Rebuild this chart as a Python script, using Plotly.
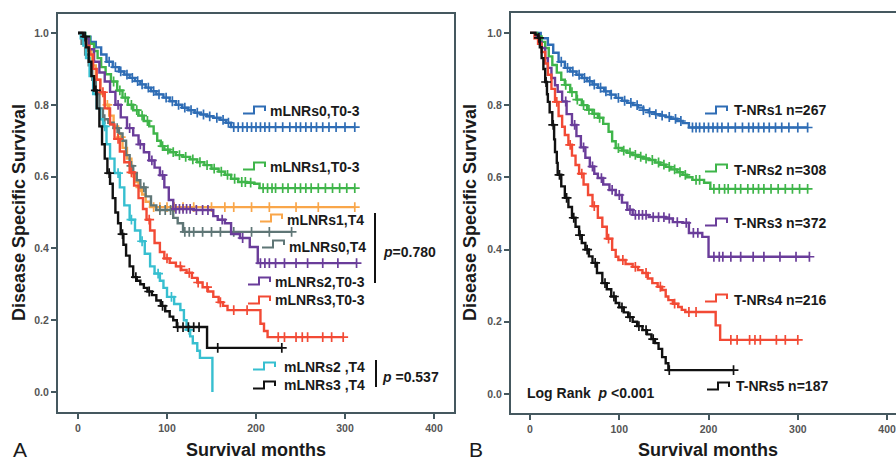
import numpy as np
import plotly.graph_objects as go

W, H = 896, 461

# ---------------- Panel A data ----------------
a_names = ["mLNRs0,T0-3", "mLNRs1,T0-3", "mLNRs1,T4", "mLNRs0,T4",
           "mLNRs2,T0-3", "mLNRs3,T0-3", "mLNRs2 ,T4", "mLNRs3 ,T4"]
a_colors = ["#2f6db5", "#3fb54a", "#f9a64a", "#5f7676",
            "#6a3d9a", "#f24a35", "#37bfd0", "#111111"]

a0_t = [0, 8, 14, 20, 26, 32, 39, 46, 52, 58, 64, 70, 76, 82, 88, 96, 103, 110, 117, 124, 131, 138, 145, 152, 160, 166, 172, 311]
a0_s = [1.0, 0.99, 0.975, 0.96, 0.94, 0.92, 0.905, 0.893, 0.884, 0.875, 0.866, 0.857, 0.848, 0.838, 0.829, 0.82, 0.81, 0.80, 0.792, 0.785, 0.778, 0.773, 0.768, 0.764, 0.758, 0.75, 0.738, 0.738]
a0_c = [35, 42, 48, 55, 61, 67, 72, 79, 85, 91, 99, 106, 113, 120, 127, 134, 141, 148, 156, 163, 169,
        175, 180, 185, 190, 195, 200, 205, 210, 215, 222, 230, 238, 245, 250, 256, 262, 268, 275, 282, 290, 300, 311]

a1_t = [0, 8, 13, 18, 22, 26, 31, 37, 44, 50, 56, 62, 68, 74, 80, 85, 89, 93, 97, 103, 110, 118, 126, 134, 142, 150, 158, 165, 172, 180, 190, 198, 204, 311]
a1_s = [1.0, 0.99, 0.97, 0.95, 0.93, 0.905, 0.885, 0.865, 0.84, 0.82, 0.80, 0.785, 0.77, 0.755, 0.74, 0.72, 0.70, 0.685, 0.675, 0.668, 0.66, 0.655, 0.648, 0.64, 0.632, 0.622, 0.614, 0.605, 0.594, 0.585, 0.583, 0.58, 0.568, 0.568]
a1_c = [40, 47, 53, 60, 66, 72, 78, 95, 101, 107, 114, 121, 129, 137, 145, 153, 161, 168, 176, 184, 188, 194,
        208, 213, 218, 222, 230, 236, 244, 250, 256, 262, 270, 278, 286, 294, 302, 311]

a2_t = [0, 5, 10, 15, 20, 25, 30, 35, 40, 45, 50, 55, 60, 64, 68, 72, 76, 81, 311]
a2_s = [1.0, 0.98, 0.95, 0.91, 0.87, 0.83, 0.80, 0.77, 0.74, 0.71, 0.68, 0.65, 0.61, 0.585, 0.57, 0.55, 0.53, 0.515, 0.515]
a2_c = [33, 48, 62, 70, 85, 92, 100, 108, 118, 130, 150, 165, 175, 195, 215, 245, 270, 311]

a3_t = [0, 4, 8, 12, 16, 20, 24, 28, 34, 40, 46, 50, 54, 58, 62, 66, 70, 76, 82, 88, 107, 112, 118, 240]
a3_s = [1.0, 0.97, 0.94, 0.91, 0.87, 0.83, 0.79, 0.76, 0.75, 0.735, 0.72, 0.70, 0.66, 0.63, 0.61, 0.59, 0.57, 0.545, 0.52, 0.507, 0.485, 0.47, 0.446, 0.446]
a3_c = [30, 44, 60, 74, 92, 98, 104, 120, 125, 130, 140, 150, 160, 175, 195, 215, 240]

a4_t = [0, 6, 12, 18, 24, 30, 36, 42, 48, 55, 62, 68, 74, 80, 86, 92, 97, 102, 107, 130, 152, 157, 165, 172, 182, 193, 202, 313]
a4_s = [1.0, 0.985, 0.955, 0.92, 0.89, 0.865, 0.836, 0.80, 0.765, 0.735, 0.715, 0.69, 0.668, 0.645, 0.625, 0.604, 0.57, 0.535, 0.51, 0.507, 0.49, 0.48, 0.47, 0.44, 0.429, 0.404, 0.359, 0.359]
a4_c = [45, 58, 70, 83, 95, 110, 114, 118, 122, 126, 133, 140, 146, 162, 185,
        205, 210, 215, 222, 232, 245, 258, 275, 292, 313]

a5_t = [0, 4, 8, 13, 17, 21, 25, 30, 36, 41, 47, 52, 58, 63, 68, 73, 77, 81, 86, 92, 97, 103, 110, 116, 122, 128, 134, 140, 146, 152, 158, 163, 168, 205, 209, 213, 298]
a5_s = [1.0, 0.985, 0.965, 0.94, 0.90, 0.87, 0.835, 0.79, 0.745, 0.705, 0.67, 0.64, 0.612, 0.575, 0.54, 0.51, 0.48, 0.45, 0.415, 0.39, 0.372, 0.36, 0.35, 0.34, 0.332, 0.318, 0.305, 0.292, 0.28, 0.265, 0.25, 0.24, 0.228, 0.19, 0.17, 0.153, 0.153]
a5_c = [28, 45, 60, 80, 100, 115, 125, 135, 145, 160, 175, 190, 225, 232, 245, 252, 258, 275, 285, 298]

a6_t = [0, 3, 6, 9, 13, 17, 21, 25, 28, 32, 36, 41, 47, 52, 58, 64, 70, 75, 81, 86, 92, 96, 100, 108, 115, 119, 122, 126, 129, 134, 137, 151]
a6_s = [1.0, 0.985, 0.965, 0.93, 0.88, 0.83, 0.79, 0.76, 0.74, 0.69, 0.65, 0.61, 0.57, 0.52, 0.48, 0.45, 0.42, 0.385, 0.35, 0.33, 0.31, 0.29, 0.265, 0.245, 0.228, 0.20, 0.173, 0.155, 0.136, 0.115, 0.095, 0.0]
a6_c = [30, 45, 60, 72, 90, 105, 125]

a7_t = [0, 6, 9, 12, 15, 18, 21, 24, 27, 30, 33, 36, 39, 42, 45, 48, 51, 54, 58, 62, 66, 70, 74, 78, 83, 88, 93, 98, 103, 107, 111, 145, 229]
a7_s = [1.0, 0.99, 0.96, 0.92, 0.88, 0.84, 0.79, 0.74, 0.69, 0.65, 0.61, 0.58, 0.54, 0.50, 0.47, 0.44, 0.41, 0.38, 0.35, 0.32, 0.31, 0.30, 0.29, 0.28, 0.27, 0.255, 0.24, 0.225, 0.21, 0.20, 0.181, 0.123, 0.123]
a7_c = [8, 20, 35, 50, 65, 80, 95, 112, 118, 124, 130, 136, 157, 229]

# ---------------- Panel B data ----------------
b_names = ["T-NRs1 n=267", "T-NRs2 n=308", "T-NRs3 n=372", "T-NRs4 n=216", "T-NRs5 n=187"]
b_colors = ["#2f6db5", "#3fb54a", "#6a3d9a", "#f24a35", "#111111"]

b0_t = [0, 6, 12, 20, 26, 32, 39, 45, 52, 58, 64, 70, 76, 83, 90, 96, 103, 109, 115, 121, 127, 133, 140, 146, 152, 158, 165, 171, 178, 311]
b0_s = [1.0, 1.0, 0.985, 0.967, 0.945, 0.92, 0.903, 0.893, 0.884, 0.875, 0.866, 0.857, 0.848, 0.838, 0.829, 0.82, 0.812, 0.806, 0.80, 0.793, 0.786, 0.78, 0.775, 0.771, 0.767, 0.762, 0.756, 0.75, 0.738, 0.738]
b0_c = [35, 42, 48, 55, 61, 67, 72, 79, 85, 91, 99, 106, 113, 120, 127, 134, 141, 148, 156, 163, 169,
        182, 186, 190, 195, 200, 205, 210, 215, 222, 230, 238, 245, 250, 256, 262, 268, 275, 282, 290, 300, 311]

b1_t = [0, 8, 13, 17, 21, 25, 30, 35, 39, 45, 52, 58, 64, 70, 76, 82, 88, 92, 96, 103, 109, 115, 121, 127, 133, 140, 146, 152, 158, 165, 171, 176, 182, 195, 202, 311]
b1_s = [1.0, 0.99, 0.975, 0.958, 0.935, 0.911, 0.89, 0.87, 0.856, 0.836, 0.815, 0.80, 0.787, 0.776, 0.765, 0.748, 0.726, 0.70, 0.681, 0.674, 0.668, 0.662, 0.657, 0.652, 0.648, 0.641, 0.635, 0.629, 0.622, 0.614, 0.607, 0.60, 0.593, 0.585, 0.568, 0.568]
b1_c = [40, 47, 53, 60, 66, 72, 78, 99, 105, 112, 118, 124, 130, 137, 144, 150, 156, 162, 168, 174, 186, 190,
        206, 212, 218, 222, 230, 236, 244, 250, 256, 262, 270, 278, 286, 294, 302, 311]

b2_t = [0, 6, 10, 13, 17, 20, 24, 28, 31, 36, 41, 47, 52, 57, 62, 67, 72, 76, 82, 89, 96, 103, 109, 115, 133, 152, 160, 171, 178, 193, 200, 313]
b2_s = [1.0, 0.99, 0.975, 0.958, 0.93, 0.903, 0.875, 0.855, 0.837, 0.81, 0.775, 0.745, 0.714, 0.683, 0.654, 0.63, 0.61, 0.598, 0.58, 0.565, 0.551, 0.53, 0.51, 0.496, 0.49, 0.486, 0.476, 0.474, 0.446, 0.435, 0.38, 0.38]
b2_c = [40, 50, 60, 70, 80, 92, 100, 112, 118, 122, 126, 130, 138, 144, 150, 156, 165, 175, 183, 188,
        206, 212, 216, 225, 236, 250, 262, 280, 298, 313]

b3_t = [0, 5, 9, 13, 17, 20, 24, 28, 32, 36, 39, 43, 47, 51, 55, 60, 65, 70, 76, 81, 86, 92, 96, 99, 107, 115, 121, 126, 132, 137, 143, 148, 152, 155, 160, 166, 170, 174, 208, 213, 300]
b3_s = [1.0, 0.985, 0.97, 0.947, 0.915, 0.884, 0.845, 0.809, 0.77, 0.74, 0.717, 0.69, 0.66, 0.634, 0.61, 0.58, 0.551, 0.52, 0.488, 0.463, 0.43, 0.399, 0.38, 0.371, 0.36, 0.352, 0.343, 0.335, 0.32, 0.307, 0.297, 0.288, 0.27, 0.26, 0.25, 0.241, 0.233, 0.227, 0.19, 0.15, 0.15]
b3_c = [30, 45, 58, 72, 88, 104, 118, 130, 146, 162, 178, 186, 225, 232, 246, 252, 258, 276, 286, 300]

b4_t = [0, 6, 9, 11, 13, 15, 17, 19, 20, 22, 25, 27, 28, 30, 31, 35, 39, 43, 47, 51, 55, 58, 62, 66, 70, 75, 81, 86, 91, 96, 100, 105, 110, 115, 120, 126, 131, 136, 140, 144, 148, 152, 155, 228]
b4_s = [1.0, 0.995, 0.986, 0.96, 0.93, 0.90, 0.864, 0.83, 0.809, 0.78, 0.745, 0.705, 0.67, 0.64, 0.607, 0.575, 0.543, 0.518, 0.488, 0.463, 0.44, 0.418, 0.40, 0.381, 0.363, 0.335, 0.307, 0.29, 0.27, 0.252, 0.24, 0.226, 0.213, 0.20, 0.188, 0.177, 0.165, 0.152, 0.141, 0.125, 0.102, 0.085, 0.066, 0.066]
b4_c = [10, 18, 26, 33, 41, 49, 56, 64, 73, 84, 94, 103, 112, 122, 130, 138, 156, 228]

a_curves = [(a0_t, a0_s, a0_c), (a1_t, a1_s, a1_c), (a2_t, a2_s, a2_c), (a3_t, a3_s, a3_c),
            (a4_t, a4_s, a4_c), (a5_t, a5_s, a5_c), (a6_t, a6_s, a6_c), (a7_t, a7_s, a7_c)]
b_curves = [(b0_t, b0_s, b0_c), (b1_t, b1_s, b1_c), (b2_t, b2_s, b2_c),
            (b3_t, b3_s, b3_c), (b4_t, b4_s, b4_c)]

x_ticks = [0, 100, 200, 300, 400]
y_ticks = [0.0, 0.2, 0.4, 0.6, 0.8, 1.0]


def step_at(t, s, tc):
    t = np.asarray(t, float)
    s = np.asarray(s, float)
    idx = np.searchsorted(t, np.asarray(tc, float), side="right") - 1
    idx = np.clip(idx, 0, len(s) - 1)
    return s[idx]


fig = go.Figure()


def add_curves(curves, colors, names, xa, ya):
    for (t, s, c), col, nm in zip(curves, colors, names):
        fig.add_trace(go.Scatter(x=t, y=s, mode="lines", line=dict(color=col, width=2.4, shape="hv"),
                                 name=nm, xaxis=xa, yaxis=ya, showlegend=False, hoverinfo="skip"))
        fig.add_trace(go.Scatter(x=c, y=step_at(t, s, c), mode="markers",
                                 marker=dict(symbol="cross-thin", size=7, line=dict(color=col, width=1.7)),
                                 xaxis=xa, yaxis=ya, showlegend=False, hoverinfo="skip"))


add_curves(a_curves, a_colors, a_names, "x", "y")
add_curves(b_curves, b_colors, b_names, "x2", "y2")


def px(x):
    return x / W


def py(y):
    return 1 - y / H


AX = "#45585f"
tickfont = dict(family="Liberation Sans", size=10.5, color="#555555", weight="bold")
common_x = dict(tickvals=x_ticks, ticks="outside", ticklen=5, tickwidth=1.5, tickcolor=AX,
                showline=True, linecolor=AX, linewidth=2, showgrid=False, zeroline=False,
                tickfont=tickfont)
common_y = dict(tickvals=y_ticks, tickformat=".1f", ticks="outside", ticklen=5, tickwidth=1.5, tickcolor=AX,
                showline=True, linecolor=AX, linewidth=2, showgrid=False, zeroline=False,
                tickfont=tickfont)

fig.update_layout(
    width=W, height=H, autosize=False,
    margin=dict(l=0, r=0, t=0, b=0),
    paper_bgcolor="white", plot_bgcolor="white",
    xaxis=dict(domain=[px(58), px(454)], range=[-22.5, 422.5], mirror=True, anchor="y", **common_x),
    yaxis=dict(domain=[py(412), py(14)], range=[-0.0557, 1.053], mirror=True, anchor="x", **common_y),
    xaxis2=dict(domain=[px(511), 1.0], range=[-21.3, 410], mirror=True, anchor="y2", **common_x),
    yaxis2=dict(domain=[py(413), py(13)], range=[-0.0526, 1.055], mirror=False, anchor="x2", **common_y),
)

TXT = dict(family="Liberation Sans", size=14, color="#1a1a1a", weight="bold")
anns = []
shapes = []


def text(x, y, s, font=TXT, xanchor="left", angle=0):
    anns.append(dict(x=px(x), y=py(y), xref="paper", yref="paper", text=s, showarrow=False,
                     xanchor=xanchor, yanchor="middle", font=font, textangle=angle))


def icon(x0, yc, col):
    lo, hi = yc + 3.5, yc - 3.5
    path = (f"M {px(x0)},{py(lo)} L {px(x0 + 11)},{py(lo)} L {px(x0 + 11)},{py(hi)} "
            f"L {px(x0 + 22)},{py(hi)} L {px(x0 + 22)},{py(yc + 1)}")
    shapes.append(dict(type="path", path=path, xref="paper", yref="paper",
                       line=dict(color=col, width=2)))


# Panel A legend
a_leg = [(243, 110, 268, 111), (243, 166, 268, 167), (260, 218, 285, 220), (262, 244, 287, 247),
         (248, 281, 273, 282), (248, 300, 273, 300), (253, 366, 282, 367), (253, 385, 282, 385)]
for (ix, iy, tx, ty), col, nm in zip(a_leg, a_colors, a_names):
    icon(ix, iy, col)
    text(tx, ty, nm)

shapes.append(dict(type="line", xref="paper", yref="paper", x0=px(375), x1=px(375), y0=py(213), y1=py(283),
                   line=dict(color="#111", width=2)))
shapes.append(dict(type="line", xref="paper", yref="paper", x0=px(376), x1=px(376), y0=py(360), y1=py(387),
                   line=dict(color="#111", width=2)))
text(381, 252, "<i>p</i>=0.780")
text(380, 377, "<i>p</i> =0.537")

# Panel B legend
b_leg = [(705, 110, 732, 110), (705, 168, 732, 170), (705, 222, 732, 223), (705, 298, 732, 300), (707, 386, 734, 386)]
for (ix, iy, tx, ty), col, nm in zip(b_leg, b_colors, b_names):
    icon(ix, iy, col)
    text(tx, ty, nm)
text(525, 393, "Log Rank  <i>p</i> &lt;0.001")

# Axis titles and panel labels
TITLE = dict(family="Liberation Sans", size=18, color="#1a1a1a", weight="bold")
text(256, 450, "Survival months", TITLE, xanchor="center")
text(708, 450, "Survival months", TITLE, xanchor="center")
text(19, 213, "Disease Specific Survival", TITLE, xanchor="center", angle=-90)
text(470, 213, "Disease Specific Survival", TITLE, xanchor="center", angle=-90)
LAB = dict(family="Liberation Sans", size=21, color="#1a1a1a")
text(11, 449, "A", LAB)
text(467, 449, "B", LAB)

fig.update_layout(annotations=anns, shapes=shapes)
fig.write_html("out.html", config={"displayModeBar": False},
               post_script="document.body.style.margin='0';document.body.style.overflow='hidden';")
